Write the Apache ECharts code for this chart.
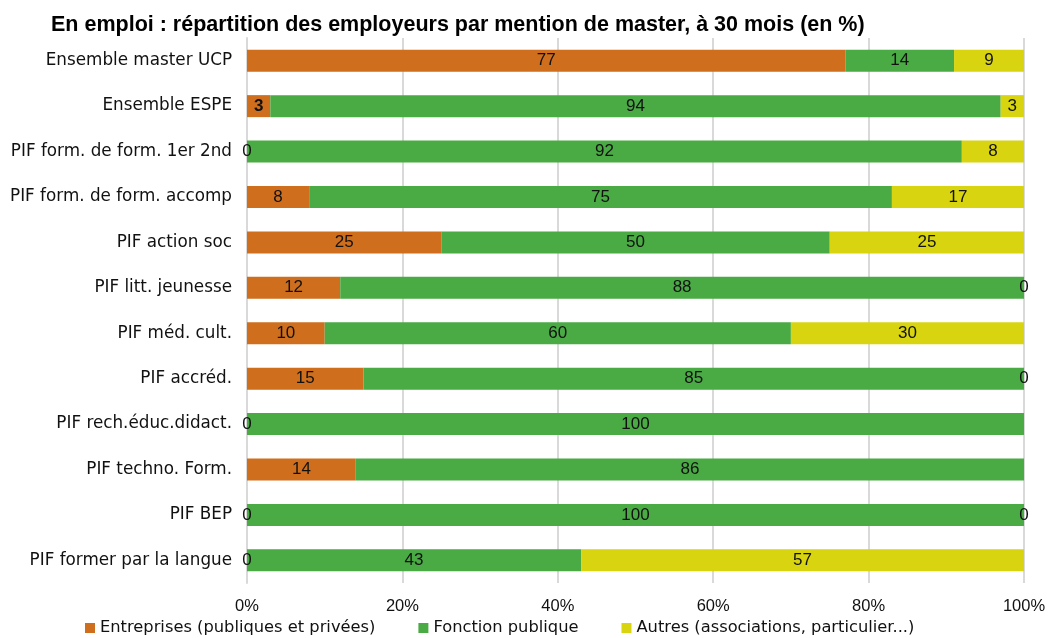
<!DOCTYPE html>
<html>
<head>
<meta charset="utf-8">
<script src="https://cdn.jsdelivr.net/npm/echarts@6/dist/echarts.min.js"></script>
<style>
  html, body { margin: 0; padding: 0; background: #fff; }
  #chart { width: 1052px; height: 638px; }
</style>
</head>
<body>
<div id="chart"></div>
<script>
// catégories (de haut en bas)
const categories = [
  'Ensemble master UCP',
  'Ensemble ESPE',
  'PIF form. de form. 1er 2nd',
  'PIF form. de form. accomp',
  'PIF action soc',
  'PIF litt. jeunesse',
  'PIF méd. cult.',
  'PIF accréd.',
  'PIF rech.éduc.didact.',
  'PIF techno. Form.',
  'PIF BEP',
  'PIF former par la langue'
];
const entreprises = [77, 3, 0, 8, 25, 12, 10, 15, 0, 14, 0, 0];
const fonctionPublique = [14, 94, 92, 75, 50, 88, 60, 85, 100, 86, 100, 43];
const autres = [9, 3, 8, 17, 25, 0, 30, 0, null, null, 0, 57];
const xTicks = [0, 20, 40, 60, 80, 100];

const seriesNames = [
  'Entreprises (publiques et privées)',
  'Fonction publique',
  'Autres (associations, particulier...)'
];
const colors = ['#CF6F1D', '#4AAB45', '#D8D410'];

const font = 'Liberation Sans, Arial, sans-serif';
const wideFont = 'DejaVu Sans, Liberation Sans, sans-serif';

function mk(name, values, color, idx) {
  const data = values.map(function (v, i) {
    // le "3" de l'ensemble ESPE est en gras dans l'original
    if (idx === 0 && i === 1) {
      return { value: v, label: { fontWeight: 'bold' } };
    }
    return v;
  });
  return {
    name: name,
    type: 'bar',
    stack: 'total',
    barWidth: 22,
    data: data,
    itemStyle: { color: color },
    label: {
      show: true,
      position: 'inside',
      color: '#111',
      fontFamily: font,
      fontSize: 17
    }
  };
}

const chart = echarts.init(document.getElementById('chart'));
chart.setOption({
  animation: false,
  title: {
    text: 'En emploi : répartition des employeurs par mention de master, à 30 mois (en %)',
    left: 46,
    top: 9,
    textStyle: { fontFamily: font, fontSize: 21.5, fontWeight: 'bold', color: '#000' }
  },
  legend: {
    bottom: 2,
    left: 85,
    padding: 0,
    itemWidth: 10,
    itemHeight: 10,
    itemGap: 43,
    icon: 'rect',
    textStyle: { fontFamily: wideFont, fontSize: 16.3, color: '#111' },
    data: seriesNames
  },
  grid: { left: 247, right: 28, top: 38, bottom: 55 },
  xAxis: {
    type: 'value',
    min: 0,
    max: 100,
    interval: 20,
    axisLine: { show: false },
    axisTick: { show: false },
    splitLine: { lineStyle: { color: '#D9D9D9', width: 2 } },
    axisLabel: {
      margin: 15,
      fontFamily: font,
      fontSize: 16.5,
      color: '#111',
      formatter: function (v) { return xTicks.indexOf(v) >= 0 ? v + '%' : ''; }
    }
  },
  yAxis: {
    type: 'category',
    inverse: true,
    data: categories,
    axisLine: { show: true, lineStyle: { color: '#D9D9D9', width: 2 } },
    axisTick: { show: false },
    axisLabel: { margin: 15, fontFamily: wideFont, fontSize: 16.8, color: '#111' }
  },
  series: [
    mk(seriesNames[0], entreprises, colors[0], 0),
    mk(seriesNames[1], fonctionPublique, colors[1], 1),
    mk(seriesNames[2], autres, colors[2], 2)
  ]
});
</script>
</body>
</html>
